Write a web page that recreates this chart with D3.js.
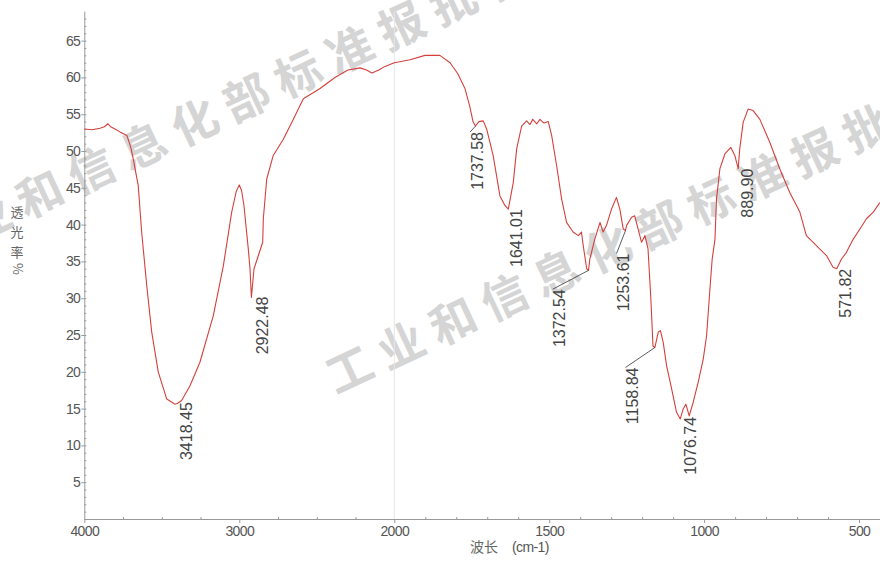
<!DOCTYPE html>
<meta charset="utf-8">
<style>

body {
  margin: 0;
  background: #fff;
}

text {
  font-family: "Liberation Sans", Arial, sans-serif;
}

.axis text {
  font-size: 14px;
  fill: #555;
  letter-spacing: -0.6px;
}

.axis path,
.axis line {
  stroke: #999;
}

.peak {
  font-size: 16px;
  fill: #444;
}

.mark {
  font-family: "Noto Sans CJK SC", sans-serif;
  font-size: 46px;
  font-weight: bold;
  fill: #c4c4c4;
  opacity: 0.7;
  letter-spacing: 11px;
}

.cjk {
  font-family: "Noto Sans CJK SC", sans-serif;
  font-size: 13px;
  fill: #666;
}

</style>
<body>
<script src="https://cdn.jsdelivr.net/npm/d3@7/dist/d3.min.js"></script>
<script>

// spectrum (wavenumber cm-1, transmittance %)
var wavenumber = [4000, 3950, 3899, 3870, 3847, 3830, 3802, 3770, 3725, 3700, 3684, 3652, 3630, 3597, 3565, 3523, 3468, 3430, 3418, 3400, 3372, 3318, 3254, 3168, 3103, 3049, 3020, 3000, 2985, 2970, 2942, 2931, 2922, 2905, 2877, 2849, 2845, 2823, 2781, 2716, 2652, 2587, 2479, 2383, 2299, 2221, 2180, 2144, 2100, 2060, 2000,
  1949, 1901, 1853, 1820, 1795, 1772, 1756, 1746, 1738, 1727, 1713, 1702, 1681, 1659, 1643, 1632, 1616, 1605, 1589, 1573, 1562, 1553, 1540, 1530, 1517, 1503, 1492, 1476, 1460, 1444, 1423, 1406, 1396, 1390, 1379, 1373, 1369, 1353, 1336, 1326, 1315, 1299, 1283, 1272, 1261, 1254, 1250, 1234, 1224, 1213, 1202, 1191, 1181, 1172, 1165, 1159, 1148, 1141, 1132, 1121, 1105, 1089, 1077, 1068, 1059, 1048, 1035, 1019, 1003, 992, 982, 974, 965, 960, 949, 933, 914, 901, 890, 885, 874, 858, 842, 820, 788, 756, 724, 691, 670, 648, 627, 605, 584, 572, 557, 541, 519, 497, 476, 454, 433];

var transmittance = [53.0, 52.9, 53.1, 53.3, 53.7, 53.3, 53.0, 52.6, 52.1, 50.5, 48.9, 45.3, 39.0, 31.7, 25.4, 20.0, 16.3, 15.8, 15.6, 15.7, 16.1, 18.1, 21.3, 27.6, 34.4, 41.7, 44.5, 45.4, 44.6, 42.6, 36.7, 34.0, 30.1, 34.0, 35.8, 37.6, 40.8, 46.2, 49.4, 51.6, 54.3, 57.1, 58.5, 60.0, 61.0, 61.3, 61.0, 60.6, 61.0, 61.5, 62.0,
  62.4, 63.0, 63.0, 62.0, 60.5, 58.5, 56.0, 54.0, 53.4, 54.0, 54.1, 53.0, 49.4, 43.9, 42.6, 42.1, 45.7, 50.3, 53.4, 54.1, 53.6, 54.3, 53.7, 54.3, 53.8, 54.0, 52.1, 48.0, 43.5, 40.3, 39.0, 38.5, 39.0, 37.1, 34.0, 33.8, 35.3, 38.0, 40.3, 39.0, 39.9, 42.1, 43.7, 42.1, 39.4, 39.2, 39.9, 41.0, 41.2, 39.4, 37.6, 38.5, 36.7, 30.0, 23.5, 23.3, 25.4, 25.6, 24.0, 20.8, 17.7, 14.5, 13.6, 14.9, 15.6, 14.0, 15.9, 18.6, 21.7, 24.9, 30.8, 35.3, 38.0, 43.5, 47.6, 49.6, 50.5, 49.4, 47.6, 50.3, 53.9, 55.7, 55.5, 54.3, 51.2, 47.6, 44.4, 41.7, 38.5, 37.6, 36.7, 35.8, 34.2, 34.0, 35.3, 36.2, 38.0, 39.4, 40.8, 41.7, 43.0];

// labelled peaks
var peakWave = [3418.45, 2922.48, 1737.58, 1641.01, 1372.54, 1253.61, 1158.84, 1076.74, 889.90, 571.82];
var peakT = [15.6, 30.1, 53.4, 42.1, 33.8, 39.2, 23.3, 13.6, 47.6, 34.0];

var xTicks = [4000, 3000, 2000, 1500, 1000, 500];
var xMinor = [3750, 3500, 3250, 2750, 2500, 2250, 1900, 1800, 1700, 1600, 1400, 1300, 1200, 1100, 900, 800, 700, 600, 400];
var yTicks = [5, 10, 15, 20, 25, 30, 35, 40, 45, 50, 55, 60, 65];

// label placement relative to the peak point: [dx, dy, leader]
var labelPos = [[11.5, -2, 0], [11, -1, 0], [1.5, 6, 1], [10.5, 0, 0], [-29, 19, 1], [-2, 23, 1], [-22.5, 20, 1], [10.5, -2, 0], [9, 0, 0], [9, 0, 0]];

var width = 880,
    height = 563;

var svg = d3.select("body").append("svg")
    .attr("width", width)
    .attr("height", height);

// the instrument doubles the scale below 2000 cm-1
var x = d3.scaleLinear()
    .domain([4000, 2000, 400])
    .range([84.3, 394.3, 890]);

var y = d3.scaleLinear()
    .domain([0, 69])
    .range([519, 11.2]);

// watermark
var marks = [[-84, 253], [329, 380]];
svg.selectAll(".mark")
    .data(marks)
  .enter().append("text")
    .attr("class", "mark")
    .attr("transform", function(d) { return "translate(" + d[0] + "," + d[1] + ") rotate(-25)"; })
    .attr("dy", "0.35em")
    .text("工业和信息化部标准报批稿");

// grid line at the scale break
svg.append("line")
    .attr("x1", x(2000)).attr("x2", x(2000))
    .attr("y1", y(69)).attr("y2", y(0))
    .attr("stroke", "#e6e6e6");

// axes
svg.append("g")
    .attr("class", "axis")
    .attr("transform", "translate(0," + y(0) + ")")
    .call(d3.axisBottom(x).tickValues(xTicks).tickFormat(d3.format("d")).tickSize(4).tickSizeOuter(0).tickPadding(3))
    .call(function(g) { g.select(".domain").attr("d", "M" + x(4000) + ",0.5H" + width); });

svg.append("g")
    .attr("class", "axis")
    .attr("transform", "translate(0," + y(0) + ")")
    .call(d3.axisBottom(x).tickValues(xMinor).tickFormat("").tickSize(-2))
    .call(function(g) { g.select(".domain").remove(); });

svg.append("g")
    .attr("class", "axis")
    .attr("transform", "translate(" + x(4000) + ",0)")
    .call(d3.axisLeft(y).tickValues(yTicks).tickSize(3).tickSizeOuter(0).tickPadding(1));

svg.append("g")
    .attr("class", "axis")
    .attr("transform", "translate(" + x(4000) + ",0)")
    .call(d3.axisLeft(y).tickValues(d3.range(1, 69)).tickFormat("").tickSize(-2))
    .call(function(g) { g.select(".domain").remove(); });

// axis titles
svg.append("text")
    .attr("class", "cjk")
    .attr("x", 470)
    .attr("y", 552)
    .style("font-size", "14px")
    .text("波长");

svg.append("text")
    .attr("x", 512)
    .attr("y", 552)
    .style("font-size", "14px")
    .style("fill", "#555")
    .style("letter-spacing", "-0.6px")
    .text("(cm-1)");

var yTitle = ["透", "光", "率"];
svg.selectAll(".ytitle")
    .data(yTitle)
  .enter().append("text")
    .attr("class", "cjk ytitle")
    .attr("x", 17)
    .attr("y", function(d, i) { return 217 + i * 20; })
    .attr("text-anchor", "middle")
    .text(function(d) { return d; });

svg.append("text")
    .attr("class", "cjk")
    .attr("transform", "translate(13,269) rotate(90)")
    .attr("text-anchor", "middle")
    .text("%");

// spectrum
var line = d3.line()
    .x(function(d) { return x(d); })
    .y(function(d, i) { return y(transmittance[i]); });

svg.append("path")
    .datum(wavenumber)
    .attr("fill", "none")
    .attr("stroke", "#d4403c")
    .attr("stroke-width", 1.1)
    .attr("stroke-linejoin", "round")
    .attr("d", line);

// peak labels
var peaks = svg.selectAll(".peakg")
    .data(peakWave)
  .enter().append("g")
    .attr("class", "peakg");

peaks.filter(function(d, i) { return labelPos[i][2]; })
  .append("line")
    .attr("x1", function(d, i) { return x(d); })
    .attr("y1", function(d) { return y(peakT[peakWave.indexOf(d)]); })
    .attr("x2", function(d) { var k = peakWave.indexOf(d); return x(d) + labelPos[k][0] - 7; })
    .attr("y2", function(d) { var k = peakWave.indexOf(d); return y(peakT[k]) + labelPos[k][1]; })
    .attr("stroke", "#333")
    .attr("stroke-width", 0.8);

peaks.append("text")
    .attr("class", "peak")
    .attr("transform", function(d, i) {
      return "translate(" + (x(d) + labelPos[i][0]) + "," + (y(peakT[i]) + labelPos[i][1]) + ") rotate(-90)";
    })
    .attr("text-anchor", "end")
    .attr("dy", "0.35em")
    .text(function(d) { return d.toFixed(2); });

</script>
